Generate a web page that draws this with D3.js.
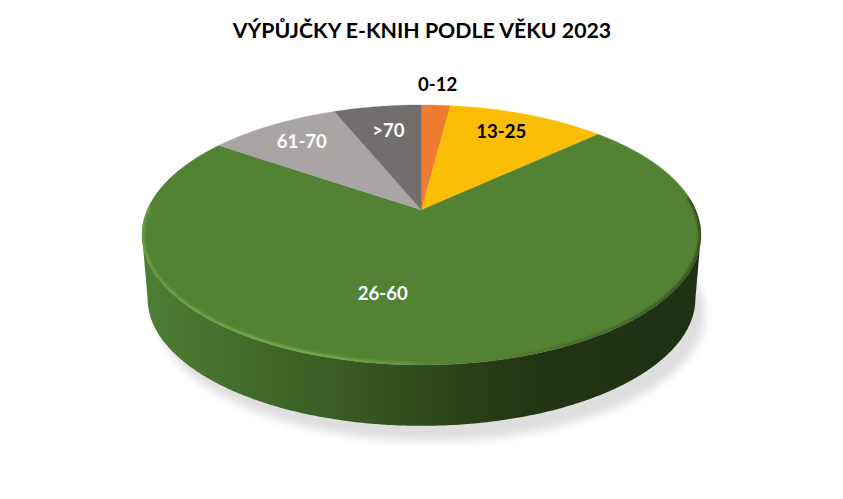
<!DOCTYPE html>
<html><head><meta charset="utf-8">
<script src="https://cdn.jsdelivr.net/npm/d3@7"></script>
<style>html,body{margin:0;padding:0;background:#fff;overflow:hidden}svg{display:block}text{font-family:Lato,"Open Sans",sans-serif;font-weight:700}</style>
</head><body><svg id="c" width="843" height="499"></svg>
<script>
const title = "VÝPŮJČKY E-KNIH PODLE VĚKU 2023";
const categories = ["0-12","13-25","26-60","61-70",">70"];
const values = [2.0,11.0,71.7,9.2,6.1];
const colors = ["#ED7D31","#FBBE04","#548235","#A9A5A5","#736E6E"];
const labelColors = ["#000","#000","#fff","#fff","#fff"];

const svg = d3.select("#c");
const W=843,H=499;
// perspective disc geometry
const cx=421.5, cy=210, A=274.3, B=125.2, k=0.192;
const project=(u,v,s=1,yc=cy,xc=cx)=>{const w=1+k*v;return [xc+s*A*u/w, yc-s*B*v/w];};
const at=(a,r=1,s=1,yc=cy,xc=cx)=>project(r*Math.sin(a),r*Math.cos(a),s,yc,xc);
const TAU=Math.PI*2;
const arcPts=(a0,a1,s,yc,xc)=>{const n=Math.max(2,Math.ceil(Math.abs(a1-a0)/0.01));return d3.range(n+1).map(i=>at(a0+(a1-a0)*i/n,1,s,yc,xc));};
const line=d3.line();
const pie=d3.pie().sort(null).value(d=>d)(values);

const defs=svg.append("defs");
const blur=(id,sd)=>defs.append("filter").attr("id",id).attr("x","-20%").attr("y","-20%").attr("width","140%").attr("height","140%")
  .append("feGaussianBlur").attr("stdDeviation",sd);
blur("sh",4); blur("rim",1.0);
const grad=(id,stops,x1=142,x2=701)=>{const g=defs.append("linearGradient").attr("id",id).attr("gradientUnits","userSpaceOnUse").attr("x1",x1).attr("x2",x2).attr("y1",0).attr("y2",0);
  stops.forEach(s=>g.append("stop").attr("offset",s[0]).attr("stop-color",s[1]).attr("stop-opacity",s[2]===undefined?1:s[2]));};
grad("side",[[0,"#4f7e34"],[0.07,"#4b7731"],[0.2,"#426a2a"],[0.35,"#3a5c23"],[0.5,"#2f4a1b"],[0.62,"#273d16"],[0.72,"#223414"],[1,"#203113"]]);
grad("rimG",[[0,"#6a9d47",.9],[0.1,"#6ea549",1],[0.3,"#74ad4e",1],[0.47,"#689e45",.9],[0.56,"#548235",0],[0.72,"#2f4a1c",.3],[0.93,"#2a4019",.6],[1,"#223414",.7]]);

// shadow
const shadowPts=arcPts(0,TAU,0.98,289,431);
svg.append("path").attr("d",line(shadowPts)+"Z").attr("fill","#dedede").attr("filter","url(#sh)");

// side wall: front of the top rim down to the lower disc
const leftA=Math.PI*1.5-Math.asin(k), rightA=Math.PI*0.5+Math.asin(k);
const yBot=274, sBot=0.98;
const wall=[...arcPts(rightA,leftA),...arcPts(leftA,rightA,sBot,yBot)];
svg.append("path").attr("d",line(wall)+"Z").attr("fill","url(#side)");

// top face
const faces=svg.append("g");
faces.selectAll("path").data(pie).join("path")
  .attr("d",d=>line([[cx,cy],...arcPts(d.startAngle,d.endAngle)])+"Z")
  .attr("fill",(d,i)=>colors[i]).attr("stroke",(d,i)=>colors[i]).attr("stroke-width",0.3);

// soft bevel on the front rim of the large slice
const clip=defs.append("clipPath").attr("id","topClip");
clip.append("path").attr("d",line(arcPts(0,TAU))+"Z");
svg.append("g").attr("clip-path","url(#topClip)").append("path")
  .attr("d",line(arcPts(rightA-0.3,leftA+0.22)))
  .attr("fill","none").attr("stroke","url(#rimG)").attr("stroke-width",5).attr("filter","url(#rim)");

// title
svg.append("text").attr("x",W/2+0.5).attr("y",38).attr("text-anchor","middle").attr("font-size",21.3).attr("fill","#000").text(title);

// labels: radial fraction along each slice's middle angle, plus a small nudge
const labelRadius=[1.235,0.79,0.59,0.79,0.72];
const labelNudge=[[-1,-0.5],[-7,-1],[-52,0],[1,1],[0,-2]];
svg.append("g").selectAll("text").data(pie).join("text")
  .attr("x",(d,i)=>at((d.startAngle+d.endAngle)/2,labelRadius[i])[0]+labelNudge[i][0])
  .attr("y",(d,i)=>at((d.startAngle+d.endAngle)/2,labelRadius[i])[1]+labelNudge[i][1]+6.5)
  .attr("text-anchor","middle").attr("font-size",18.6)
  .attr("fill",(d,i)=>labelColors[i]).text((d,i)=>categories[i]);
</script></body></html>
